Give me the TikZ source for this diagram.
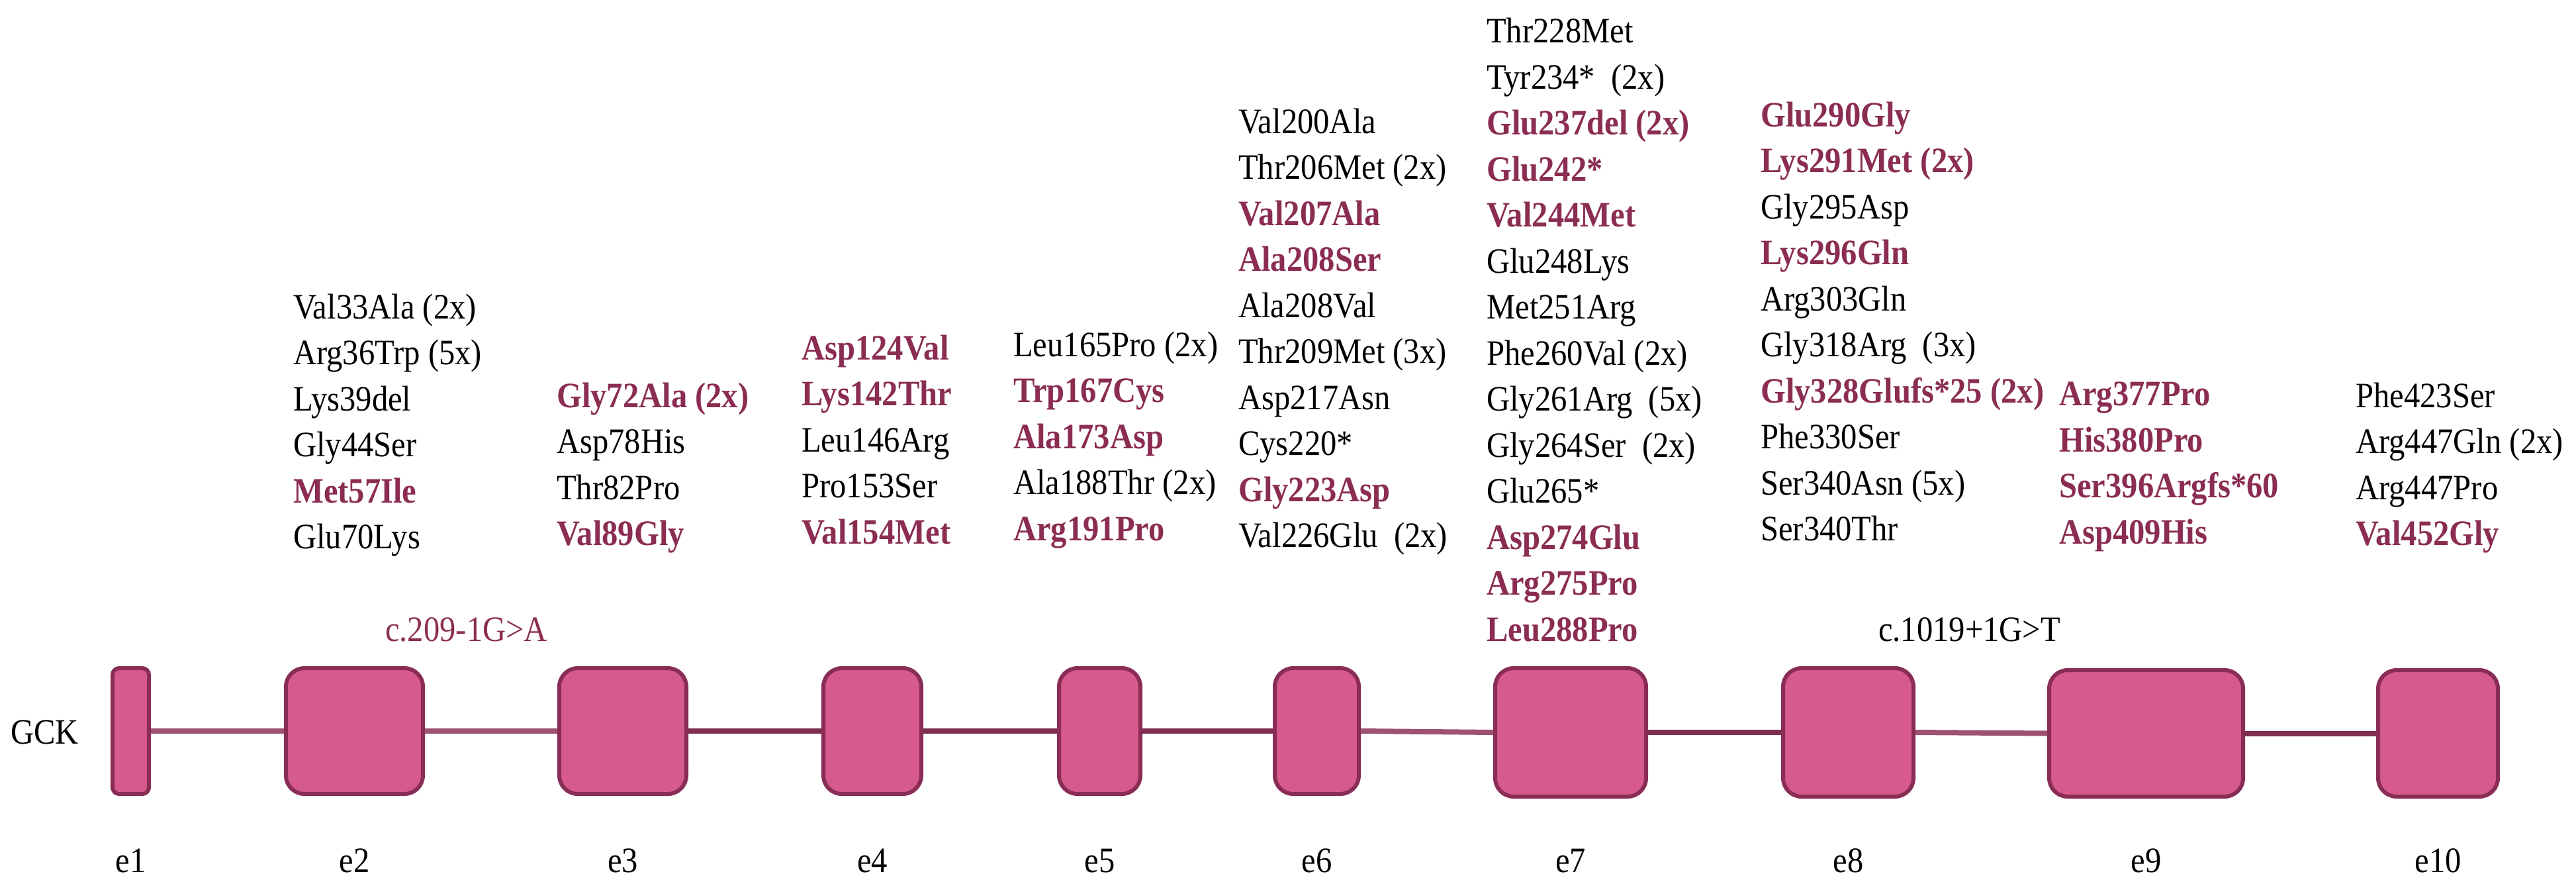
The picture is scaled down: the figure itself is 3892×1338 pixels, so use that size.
\documentclass[tikz,border=0pt]{standalone}
\usepackage{fontspec}
\setmainfont{Liberation Serif}[FakeStretch=0.9]
\definecolor{exfill}{HTML}{D65A8C}
\definecolor{exdraw}{HTML}{8A2D56}
\definecolor{intdark}{HTML}{7D2F4F}
\definecolor{intlight}{HTML}{9E5271}
\definecolor{mutred}{HTML}{8B2D52}
\newcommand\R[1]{\textcolor{mutred}{\bfseries #1}}
\tikzset{
  exon/.style={draw=exdraw, fill=exfill, line width=6pt, rounded corners=28pt, inner sep=0pt},
  mut/.style={inner sep=0pt, anchor=base west, font=\fontsize{54}{60}\selectfont},
  lbl/.style={inner sep=0pt, anchor=base, font=\fontsize{54}{60}\selectfont},
  intron/.style={line width=8pt, draw=intdark},
  intronl/.style={line width=8pt, draw=intlight}
}
\newcommand\mutcol[4]{%
  \foreach \t [count=\i from 0] in {#4} {
    \node[mut] (#1-\i) at (#2, #3 + \i*69.5) {\t};
  }}
\begin{document}
\begin{tikzpicture}[x=1pt, y=-1pt]
\useasboundingbox (0,0) rectangle (3892,1338);
% exons
\node[exon, rounded corners=10pt, minimum width=55pt, minimum height=190pt] (e1) at (197.5,1104) {};
\node[exon, minimum width=207pt, minimum height=190pt] (e2) at (535.5,1104) {};
\node[exon, minimum width=192pt, minimum height=190pt] (e3) at (941,1104) {};
\node[exon, minimum width=148pt, minimum height=190pt] (e4) at (1318,1104) {};
\node[exon, minimum width=123pt, minimum height=190pt] (e5) at (1661.5,1104) {};
\node[exon, minimum width=127pt, minimum height=190pt] (e6) at (1989.5,1104) {};
\node[exon, minimum width=228pt, minimum height=194pt] (e7) at (2373,1106) {};
\node[exon, minimum width=197pt, minimum height=194pt] (e8) at (2792.5,1106) {};
\node[exon, minimum width=293pt, minimum height=191pt] (e9) at (3242.5,1107.5) {};
\node[exon, minimum width=181pt, minimum height=191pt] (e10) at (3683.5,1107.5) {};
% introns
\draw[intronl] (e1.east) -- (e2.west);
\draw[intronl] (e2.east) -- (e3.west);
\draw[intron] (e3.east) -- (e4.west);
\draw[intron] (e4.east) -- (e5.west);
\draw[intron] (e5.east) -- (e6.west);
\draw[intronl] (e6.east) -- (e7.west);
\draw[intron] (e7.east) -- (e8.west);
\draw[intronl] (e8.east) -- (e9.west);
\draw[intron] (e9.east) -- (e10.west);
% labels
\node[mut] (gck) at (16,1123) {GCK};
\foreach \n/\x in {1/197.5,2/535.5,3/941,4/1318,5/1661.5,6/1989.5,7/2373,8/2792.5,9/3242.5,10/3683.5}
  \node[lbl] (l\n) at (\x,1317) {e\n};
\node[mut] (spl1) at (582,968) {\textcolor{mutred}{c.209-1G>A}};
\node[mut] (spl2) at (2838,968) {c.1019+1G>T};
% mutation columns
\mutcol{c2}{443}{481}{Val33Ala (2x), Arg36Trp (5x), Lys39del, Gly44Ser, \R{Met57Ile}, Glu70Lys}
\mutcol{c3}{841}{615}{\R{Gly72Ala (2x)}, Asp78His, Thr82Pro, \R{Val89Gly}}
\mutcol{c4}{1211}{543}{\R{Asp124Val}, \R{Lys142Thr}, Leu146Arg, Pro153Ser, \R{Val154Met}}
\mutcol{c5}{1531}{538}{Leu165Pro (2x), \R{Trp167Cys}, \R{Ala173Asp}, Ala188Thr (2x), \R{Arg191Pro}}
\mutcol{c6}{1871}{201}{Val200Ala, Thr206Met (2x), \R{Val207Ala}, \R{Ala208Ser}, Ala208Val, Thr209Met (3x), Asp217Asn, Cys220*, \R{Gly223Asp}, Val226Glu~~(2x)}
\mutcol{c7}{2246}{64.5}{Thr228Met, Tyr234*~~(2x), \R{Glu237del (2x)}, \R{Glu242*}, \R{Val244Met}, Glu248Lys, Met251Arg, Phe260Val (2x), Gly261Arg~~(5x), Gly264Ser~~(2x), Glu265*, \R{Asp274Glu}, \R{Arg275Pro}, \R{Leu288Pro}}
\mutcol{c8}{2660}{191}{\R{Glu290Gly}, \R{Lys291Met (2x)}, Gly295Asp, \R{Lys296Gln}, Arg303Gln, Gly318Arg~~(3x), \R{Gly328Glufs*25 (2x)}, Phe330Ser, Ser340Asn (5x), Ser340Thr}
\mutcol{c9}{3111}{612.5}{\R{Arg377Pro}, \R{His380Pro}, \R{Ser396Argfs*60}, \R{Asp409His}}
\mutcol{c10}{3559}{615}{Phe423Ser, Arg447Gln (2x), Arg447Pro, \R{Val452Gly}}
\end{tikzpicture}
\end{document}
